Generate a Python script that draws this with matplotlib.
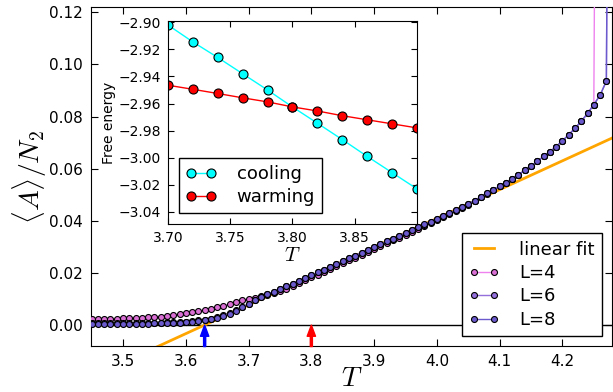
import matplotlib
matplotlib.use("Agg")
import matplotlib.pyplot as plt
import numpy as np

plt.rcParams['mathtext.fontset'] = 'cm'
plt.rcParams['font.family'] = ['DejaVu Sans']

# ---------------- data ----------------
T_L8 = [3.45, 3.46, 3.47, 3.48, 3.49, 3.50, 3.51, 3.52, 3.53, 3.54,
        3.55, 3.56, 3.57, 3.58, 3.59, 3.60, 3.61, 3.62, 3.63, 3.64,
        3.65, 3.66, 3.67, 3.68, 3.69, 3.70, 3.71, 3.72, 3.73, 3.74,
        3.75, 3.76, 3.77, 3.78, 3.79, 3.80, 3.81, 3.82, 3.83, 3.84,
        3.85, 3.86, 3.87, 3.88, 3.89, 3.90, 3.91, 3.92, 3.93, 3.94,
        3.95, 3.96, 3.97, 3.98, 3.99, 4.00, 4.01, 4.02, 4.03, 4.04,
        4.05, 4.06, 4.07, 4.08, 4.09, 4.10, 4.11, 4.12, 4.13, 4.14,
        4.15, 4.16, 4.17, 4.18, 4.19, 4.20, 4.21, 4.22, 4.23, 4.24,
        4.25, 4.26, 4.27, 4.28]
A_L8 = [0.0005, 0.0005, 0.0005, 0.0005, 0.0005, 0.0005, 0.0006, 0.0006, 0.0006, 0.0006,
        0.0007, 0.0007, 0.0008, 0.0008, 0.0009, 0.0011, 0.0013, 0.0015, 0.0018, 0.0023,
        0.0029, 0.0036, 0.0044, 0.0055, 0.0068, 0.0082, 0.0096, 0.0108, 0.0119, 0.0129,
        0.0139, 0.0149, 0.0159, 0.0170, 0.0181, 0.0192, 0.0202, 0.0213, 0.0224, 0.0234,
        0.0245, 0.0256, 0.0267, 0.0278, 0.0289, 0.0300, 0.0310, 0.0321, 0.0332, 0.0343,
        0.0354, 0.0365, 0.0376, 0.0387, 0.0397, 0.0408, 0.0419, 0.0430, 0.0441, 0.0452,
        0.0465, 0.0478, 0.0491, 0.0505, 0.0518, 0.0532, 0.0546, 0.0560, 0.0577, 0.0594,
        0.0610, 0.0628, 0.0647, 0.0665, 0.0685, 0.0707, 0.0730, 0.0755, 0.0782, 0.0812,
        0.0846, 0.0882, 0.0936, 0.5000]

T_L6 = T_L8
A_L6 = [0.0008, 0.0008, 0.0008, 0.0008, 0.0008, 0.0008, 0.0009, 0.0009, 0.0009, 0.0009,
        0.0010, 0.0010, 0.0011, 0.0011, 0.0012, 0.0014, 0.0016, 0.0018, 0.0021, 0.0025,
        0.0031, 0.0038, 0.0046, 0.0057, 0.0069, 0.0083, 0.0096, 0.0108, 0.0119, 0.0129,
        0.0139, 0.0149, 0.0159, 0.0170, 0.0181, 0.0191, 0.0202, 0.0212, 0.0223, 0.0234,
        0.0245, 0.0256, 0.0267, 0.0278, 0.0289, 0.0299, 0.0310, 0.0321, 0.0332, 0.0343,
        0.0354, 0.0365, 0.0376, 0.0386, 0.0397, 0.0408, 0.0419, 0.0430, 0.0441, 0.0452,
        0.0465, 0.0478, 0.0491, 0.0505, 0.0518, 0.0532, 0.0546, 0.0560, 0.0577, 0.0594,
        0.0610, 0.0628, 0.0647, 0.0665, 0.0685, 0.0707, 0.0730, 0.0755, 0.0782, 0.0812,
        0.0846, 0.0882, 0.0936, 0.5000]

T_L4 = [3.45, 3.46, 3.47, 3.48, 3.49, 3.50, 3.51, 3.52, 3.53, 3.54,
        3.55, 3.56, 3.57, 3.58, 3.59, 3.60, 3.61, 3.62, 3.63, 3.64,
        3.65, 3.66, 3.67, 3.68, 3.69, 3.70, 3.71, 3.72, 3.73, 3.74,
        3.75, 3.76, 3.77, 3.78, 3.79, 3.80, 3.81, 3.82, 3.83, 3.84,
        3.85, 3.86, 3.87, 3.88, 3.89, 3.90, 3.91, 3.92, 3.93, 3.94,
        3.95, 3.96, 3.97, 3.98, 3.99, 4.00, 4.01, 4.02, 4.03, 4.04,
        4.05, 4.06, 4.07, 4.08, 4.09, 4.10, 4.11, 4.12, 4.13, 4.14,
        4.15, 4.16, 4.17, 4.18, 4.19, 4.20, 4.21, 4.22, 4.23, 4.24,
        4.25, 4.26]
A_L4 = [0.0022, 0.0023, 0.0023, 0.0024, 0.0025, 0.0026, 0.0027, 0.0028, 0.0029, 0.0030,
        0.0032, 0.0033, 0.0035, 0.0038, 0.0041, 0.0045, 0.0049, 0.0053, 0.0057, 0.0062,
        0.0068, 0.0075, 0.0082, 0.0089, 0.0095, 0.0100, 0.0105, 0.0110, 0.0116, 0.0123,
        0.0131, 0.0140, 0.0150, 0.0161, 0.0172, 0.0183, 0.0194, 0.0204, 0.0215, 0.0226,
        0.0237, 0.0248, 0.0259, 0.0270, 0.0281, 0.0292, 0.0303, 0.0314, 0.0325, 0.0336,
        0.0347, 0.0358, 0.0369, 0.0380, 0.0391, 0.0402, 0.0414, 0.0425, 0.0437, 0.0449,
        0.0462, 0.0476, 0.0490, 0.0504, 0.0518, 0.0532, 0.0546, 0.0560, 0.0577, 0.0594,
        0.0610, 0.0628, 0.0647, 0.0665, 0.0685, 0.0707, 0.0730, 0.0755, 0.0782, 0.0812,
        0.0846, 0.5000]

fit_T = [3.50, 4.35]
fit_A = [-0.0143, 0.0796]

arrow_T = [3.63, 3.80]
arrow_colors = ['blue', 'red']

T_inset = [3.70, 3.72, 3.74, 3.76, 3.78, 3.80, 3.82, 3.84, 3.86, 3.88, 3.90]
F_cooling = [-2.902, -2.9145, -2.926, -2.938, -2.950, -2.9625, -2.9745, -2.9866, -2.999, -3.011, -3.023]
F_warming = [-2.9465, -2.9495, -2.9526, -2.9558, -2.9588, -2.9625, -2.9655, -2.969, -2.972, -2.975, -2.978]

main_xticks = [3.5, 3.6, 3.7, 3.8, 3.9, 4.0, 4.1, 4.2]
main_yticks = [0.00, 0.02, 0.04, 0.06, 0.08, 0.10, 0.12]
inset_xticks = [3.70, 3.75, 3.80, 3.85]
inset_yticks = [-2.90, -2.92, -2.94, -2.96, -2.98, -3.00, -3.02, -3.04]

# ---------------- figure ----------------
fig = plt.figure(figsize=(6.13, 3.92), dpi=100)
ax = fig.add_axes([0.1485, 0.1173, 0.8499, 0.8647])

ax.axhline(0, color='k', lw=1, zorder=1)
ax.plot(fit_T, fit_A, color='orange', lw=2, label='linear fit', zorder=2)
ax.plot(T_L4, A_L4, '-o', color='violet', mfc='orchid', mec='k', ms=4.3, mew=0.8, lw=1, label='L=4', zorder=3)
ax.plot(T_L6, A_L6, '-o', color='mediumpurple', mfc='mediumpurple', mec='k', ms=4.3, mew=0.8, lw=1, label='L=6', zorder=4)
ax.plot(T_L8, A_L8, '-o', color='slateblue', mfc='slateblue', mec='k', ms=4.3, mew=0.8, lw=1, label='L=8', zorder=5)

for t, c in zip(arrow_T, arrow_colors):
    ax.annotate('', xy=(t, 0.0), xytext=(t, -0.0082),
                arrowprops=dict(facecolor=c, edgecolor=c, width=1.5, headwidth=6, headlength=8, shrink=0),
                zorder=6, annotation_clip=False)

ax.set_xlim(3.449, 4.279)
ax.set_ylim(-0.008, 0.122)
ax.set_xticks(main_xticks)
ax.set_yticks(main_yticks)
ax.set_xticklabels(['%.1f' % v for v in main_xticks])
ax.set_yticklabels(['%.2f' % v for v in main_yticks])
ax.tick_params(direction='in', top=True, right=True, length=5, labelsize=11, pad=6)
ax.set_xlabel(r'$T$', fontsize=20, labelpad=-4)
ax.set_ylabel(r'$\langle A\rangle/N_2$', fontsize=20, labelpad=0)

leg = ax.legend(loc='lower right', fontsize=13, numpoints=2, fancybox=False,
                edgecolor='k', framealpha=1, borderaxespad=0.55, handlelength=1.7,
                handletextpad=1.1, labelspacing=0.3)
leg.get_frame().set_linewidth(1)

# ---------------- inset ----------------
ins = fig.add_axes([0.274, 0.4286, 0.406, 0.518])
ins.plot(T_inset, F_cooling, '-o', color='cyan', mfc='cyan', mec='k', ms=6.5, mew=0.8, lw=1, label='cooling')
ins.plot(T_inset, F_warming, '-o', color='red', mfc='red', mec='k', ms=6.5, mew=0.8, lw=1, label='warming')
ins.set_xlim(3.70, 3.90)
ins.set_ylim(-3.049, -2.899)
ins.set_xticks(inset_xticks)
ins.set_yticks(inset_yticks)
ins.set_xticklabels(['%.2f' % v for v in inset_xticks])
ins.set_yticklabels([('%.2f' % v).replace('-', '\u2212') for v in inset_yticks])
ins.tick_params(direction='in', top=True, right=True, length=4, labelsize=10, pad=5)
ins.set_xlabel(r'$T$', fontsize=15, labelpad=0)
ins.set_ylabel('Free energy', fontsize=10, labelpad=2)
leg2 = ins.legend(loc='lower left', fontsize=13, numpoints=2, fancybox=False,
                  edgecolor='k', framealpha=1, borderaxespad=0.6, handlelength=1.7,
                  handletextpad=1.1, labelspacing=0.25)
leg2.get_frame().set_linewidth(1)

fig.savefig('out.png', dpi=100)
